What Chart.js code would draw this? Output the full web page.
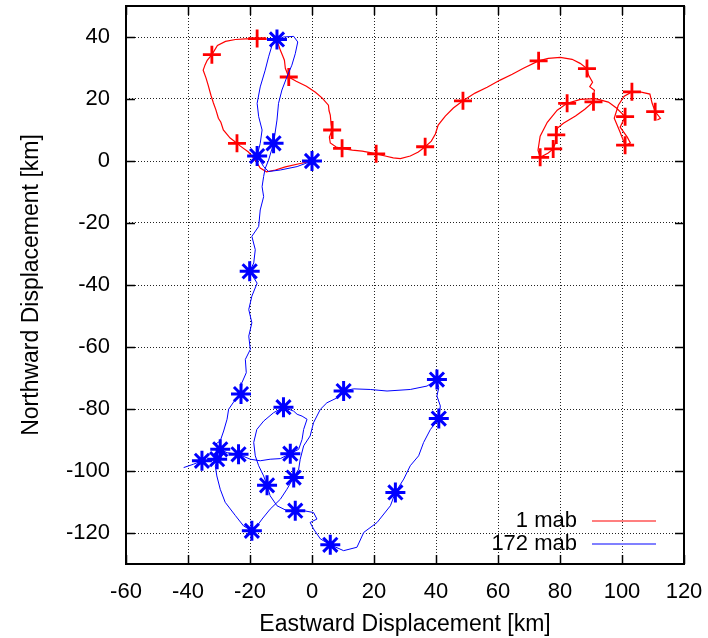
<!DOCTYPE html>
<html>
<head>
<meta charset="utf-8">
<title>Progressive vector diagram</title>
<script src="https://cdn.jsdelivr.net/npm/chart.js@4/dist/chart.umd.min.js"></script>
<style>
  body { margin: 0; background: #fff; }
  #wrap { width: 708px; height: 638px; }
</style>
</head>
<body>
<div id="wrap"><canvas id="pvd" width="708" height="638"></canvas></div>
<script>
// tick labels
var xTicks = [-60, -40, -20, 0, 20, 40, 60, 80, 100, 120];
var yTicks = [-120, -100, -80, -60, -40, -20, 0, 20, 40];

// 1 mab track (km east / km north)
var redX = [0, -3.8, -8.6, -11.8, -14.7, -16.7, -18.3, -20.5, -23.1, -24.2, -26.4, -28.6, -29.4, -30.2, -31.0, -31.8, -32.6, -33.5, -34.2, -35.1,
  -34.5, -33.8, -32.3, -30.5, -27.9, -24.7, -21.5, -17.7, -14.1, -11.2, -10.2, -9.4, -8.9, -8.6, -7.5, -5.1, -1.8, 1.1, 3.3, 5.3,
  5.5, 5.9, 6.2, 6.5, 5.6, 5.9, 7.8, 9.7, 13.0, 16.2, 18.8, 20.7, 23.6, 26.2, 28.5, 31.7, 34.3, 36.5, 38.5, 39.8,
  40.7, 43.0, 45.6, 48.7, 52.6, 56.5, 60.7, 64.6, 68.2, 73.1, 76.2, 80.1, 83.9, 86.5, 88.7, 89.2, 90.5, 89.6, 91.1, 90.8,
  90.8, 88.0, 85.0, 81.1, 79.2, 78.8, 78.5, 77.8, 76.2, 73.6, 72.9, 73.6, 75.9, 79.1, 82.3, 86.6, 91.4, 95.6, 98.2, 101.0,
  99.4, 101.7, 102.7, 101.0, 99.4, 97.5, 98.8, 100.7, 103.2, 106.2, 109.0, 109.7, 110.7, 112.4, 111.4];
var redY = [0, -0.8, -1.9, -2.9, -3.5, -2.3, 0.3, 2.9, 4.8, 5.7, 7.4, 10.0, 12.5, 13.8, 16.5, 18.7, 21.2, 24.5, 26.8, 29.3,
  31.0, 32.5, 34.3, 37.3, 38.6, 39.2, 39.4, 39.5, 39.3, 38.6, 35.7, 33.8, 32.5, 29.9, 27.1, 25.7, 24.1, 22.2, 20.3, 18.0,
  16.2, 14.8, 11.6, 10.0, 7.7, 5.8, 4.5, 4.1, 3.5, 3.2, 2.7, 2.3, 1.6, 1.0, 0.8, 1.6, 2.9, 4.6, 6.4, 8.7,
  11.6, 14.5, 17.1, 19.4, 21.9, 23.8, 26.1, 28.0, 29.9, 32.3, 33.1, 33.4, 32.8, 31.5, 29.8, 27.7, 25.4, 24.0, 22.8, 20.9,
  19.1, 16.7, 14.5, 12.2, 10.6, 8.4, 5.8, 3.9, 2.6, 1.2, 3.5, 8.0, 12.5, 16.4, 18.6, 19.9, 20.1, 19.0, 17.1, 14.3,
  10.9, 7.7, 5.8, 5.1, 9.3, 13.8, 18.0, 20.9, 22.3, 22.2, 21.6, 18.7, 15.9, 13.8, 13.2];
// daily marks on the 1 mab track
var redMarkX = [-24.2, -32.3, -17.7, -7.5, 6.5, 9.7, 20.7, 36.5, 48.7, 73.1, 88.7, 90.8, 78.8, 77.8, 73.6, 82.3, 101.0, 101.0, 103.2, 110.7];
var redMarkY = [5.7, 34.3, 39.5, 27.1, 10.0, 4.1, 2.3, 4.6, 19.4, 32.3, 29.8, 19.1, 8.4, 3.9, 1.2, 18.6, 14.3, 5.1, 22.3, 15.9];

// 172 mab track
var blueX = [0, -4.8, -10.2, -14.0, -15.6, -17.7, -16.7, -16.1, -17.2, -17.7, -16.7, -15.1, -14.0, -12.9, -11.3, -9.1, -5.9, -4.6, -5.4, -6.5,
  -8.1, -9.7, -10.8, -11.3, -12.4, -14.0, -15.1, -15.6, -16.1, -15.6, -16.7, -17.2, -19.4, -18.3, -18.8, -20.1, -17.7, -19.4, -20.4, -19.4,
  -20.4, -19.9, -21.5, -21.2, -22.6, -22.9, -24.7, -26.9, -27.4, -28.5, -29.6, -31.2, -29.6, -27.4, -23.7, -19.9, -16.7, -13.5, -10.2, -7.0,
  -4.3, -3.2, -2.7, -1.6, -3.2, -4.8, -5.9, -9.2, -12.4, -15.6, -17.8, -18.8, -18.3, -17.2, -15.6, -14.5, -13.5, -11.3, -8.1, -5.4,
  -2.7, 0.5, 1.6, -0.6, 0.5, 2.7, 5.9, 10.2, 14.5, 16.7, 21.0, 25.3, 26.9, 29.6, 31.7, 34.4, 36.0, 38.2, 40.9, 41.4,
  40.3, 40.9, 40.3, 37.1, 31.7, 24.2, 18.8, 13.4, 10.2, 8.1, 4.8, 2.7, 0.5, -0.6, -2.7, -3.8, -4.3, -5.9, -8.1, -10.2,
  -13.5, -16.1, -17.7, -19.4, -22.1, -24.7, -28.0, -29.6, -30.7, -31.2, -30.6, -32.8, -35.5, -38.2, -41.4];
var blueY = [0, -1.8, -2.9, -3.4, -1.8, 1.6, 5.7, 10.0, 14.3, 18.6, 23.9, 29.3, 33.6, 37.3, 39.2, 40.0, 40.2, 38.4, 34.6, 30.9,
  27.1, 22.9, 18.6, 13.2, 5.7, 0.3, -2.4, -5.0, -8.3, -11.5, -15.8, -21.1, -24.3, -28.6, -32.9, -35.6, -39.4, -43.6, -47.9, -52.2,
  -56.5, -60.8, -64.0, -68.3, -71.5, -75.2, -76.9, -80.1, -83.3, -87.1, -90.3, -91.4, -93.0, -94.1, -94.6, -96.2, -96.7, -96.2, -96.0, -94.4,
  -93.0, -89.8, -86.6, -83.3, -82.3, -81.7, -80.7, -79.4, -81.2, -83.9, -86.6, -90.8, -95.1, -98.3, -101.6, -104.6, -108.0, -111.2, -112.8, -112.8,
  -112.8, -113.4, -115.5, -116.6, -118.7, -121.9, -123.8, -125.7, -124.6, -119.8, -116.6, -111.2, -106.9, -102.6, -98.3, -95.1, -90.8, -86.6, -83.1, -79.0,
  -75.8, -73.1, -70.5, -72.6, -73.7, -74.2, -73.7, -73.5, -74.2, -76.4, -78.0, -80.1, -84.4, -88.7, -91.9, -96.2, -99.4, -102.1, -105.9, -109.1,
  -112.3, -115.5, -117.7, -119.3, -117.7, -114.4, -110.1, -105.9, -101.6, -98.4, -96.2, -96.7, -96.7, -97.8, -98.9];
// daily marks on the 172 mab track
var blueMarkX = [0, -17.7, -11.3, -12.4, -20.1, -22.9, -29.6, -23.7, -7.0, -9.2, -14.5, -5.4, 5.9, 26.9, 40.9, 40.3, 10.2, -5.9, -19.4, -30.6, -35.5];
var blueMarkY = [0, 1.6, 39.2, 5.7, -35.6, -75.2, -93.0, -94.6, -94.4, -79.4, -104.6, -112.8, -123.8, -106.9, -83.1, -70.5, -74.2, -102.1, -119.3, -96.2, -96.7];

var seriesNames = ['1 mab', '172 mab'];

function pts(xs, ys) {
  return xs.map(function(x, i) { return { x: x, y: ys[i] }; });
}

var FAMILY = '"Liberation Sans", Arial, sans-serif';
var FONT = { family: FAMILY, size: 22 };
var TITLE_FONT = { family: FAMILY, size: 23 };

// frame, inward mirror ticks and the gnuplot-like key
var framePlugin = {
  id: 'frame',
  afterDraw: function(chart) {
    var ctx = chart.ctx, a = chart.chartArea;
    var xs = chart.scales.x, ys = chart.scales.y;
    ctx.save();
    ctx.strokeStyle = '#000';
    ctx.lineWidth = 1.5;
    ctx.beginPath();
    xTicks.forEach(function(v) {
      var p = Math.round(xs.getPixelForValue(v)) + 0.5;
      ctx.moveTo(p, a.bottom); ctx.lineTo(p, a.bottom - 9);
      ctx.moveTo(p, a.top); ctx.lineTo(p, a.top + 9);
    });
    yTicks.forEach(function(v) {
      var p = Math.round(ys.getPixelForValue(v)) + 0.5;
      ctx.moveTo(a.left, p); ctx.lineTo(a.left + 9, p);
      ctx.moveTo(a.right, p); ctx.lineTo(a.right - 9, p);
    });
    ctx.stroke();
    ctx.lineWidth = 2;
    ctx.strokeRect(a.left, a.top, a.right - a.left, a.bottom - a.top);

    // key
    ctx.font = FONT.size + 'px ' + FONT.family;
    ctx.fillStyle = '#000';
    ctx.textAlign = 'right';
    ctx.textBaseline = 'middle';
    var tx = a.right - 107, lx0 = a.right - 92, lx1 = a.right - 28;
    var ky = [a.bottom - 43, a.bottom - 20];
    var kc = ['#ff0000', '#8080ff'];
    var kw = [1.2, 2.2];
    for (var i = 0; i < 2; i++) {
      ctx.fillText(seriesNames[i], tx, ky[i]);
      ctx.strokeStyle = kc[i];
      ctx.lineWidth = kw[i];
      ctx.beginPath();
      ctx.moveTo(lx0, ky[i]); ctx.lineTo(lx1, ky[i]);
      ctx.stroke();
    }
    ctx.restore();
  }
};

function gridColor(lo, hi) {
  return function(c) {
    var v = c.tick ? c.tick.value : null;
    return (v === lo || v === hi) ? 'rgba(0,0,0,0)' : '#222';
  };
}

new Chart(document.getElementById('pvd'), {
  type: 'scatter',
  data: {
    datasets: [
      {
        label: seriesNames[0],
        data: pts(redX, redY),
        showLine: true,
        borderColor: '#ff0000',
        borderWidth: 1.2,
        pointRadius: 0,
        order: 4
      },
      {
        label: seriesNames[0] + ' marks',
        data: pts(redMarkX, redMarkY),
        showLine: false,
        pointStyle: 'cross',
        pointRadius: 9,
        pointBorderWidth: 2.8,
        pointBorderColor: '#ff0000',
        order: 3
      },
      {
        label: seriesNames[1],
        data: pts(blueX, blueY),
        showLine: true,
        borderColor: '#0000ff',
        borderWidth: 1,
        pointRadius: 0,
        order: 2
      },
      {
        label: seriesNames[1] + ' marks',
        data: pts(blueMarkX, blueMarkY),
        showLine: false,
        pointStyle: 'star',
        pointRadius: 10,
        pointBorderWidth: 3,
        pointBorderColor: '#0000ff',
        order: 1
      }
    ]
  },
  options: {
    responsive: false,
    animation: false,
    layout: { autoPadding: false, padding: { top: 6, right: 24, left: 0, bottom: 0 } },
    plugins: {
      legend: { display: false },
      tooltip: { enabled: false }
    },
    scales: {
      x: {
        type: 'linear',
        min: -60,
        max: 120,
        afterBuildTicks: function(s) { s.ticks = xTicks.map(function(v) { return { value: v }; }); },
        afterFit: function(s) { s.height = 74; s.paddingLeft = 0; s.paddingRight = 0; },
        ticks: { font: FONT, color: '#000', padding: 15, maxRotation: 0 },
        grid: { color: gridColor(-60, 120), drawTicks: false, lineWidth: 1 },
        border: { display: false, dash: [1, 2] },
        title: { display: true, text: 'Eastward Displacement [km]', font: TITLE_FONT, color: '#000', padding: { top: 0, bottom: 0 } }
      },
      y: {
        type: 'linear',
        min: -130,
        max: 50,
        afterBuildTicks: function(s) { s.ticks = yTicks.map(function(v) { return { value: v }; }); },
        afterFit: function(s) { s.width = 126; s.paddingTop = 0; s.paddingBottom = 0; },
        ticks: { font: FONT, color: '#000', padding: 16 },
        grid: { color: gridColor(-130, 50), drawTicks: false, lineWidth: 1 },
        border: { display: false, dash: [1, 2] },
        title: { display: true, text: 'Northward Displacement [km]', font: TITLE_FONT, color: '#000', padding: { top: 18, bottom: 0 } }
      }
    }
  },
  plugins: [framePlugin]
});
</script>
</body>
</html>
